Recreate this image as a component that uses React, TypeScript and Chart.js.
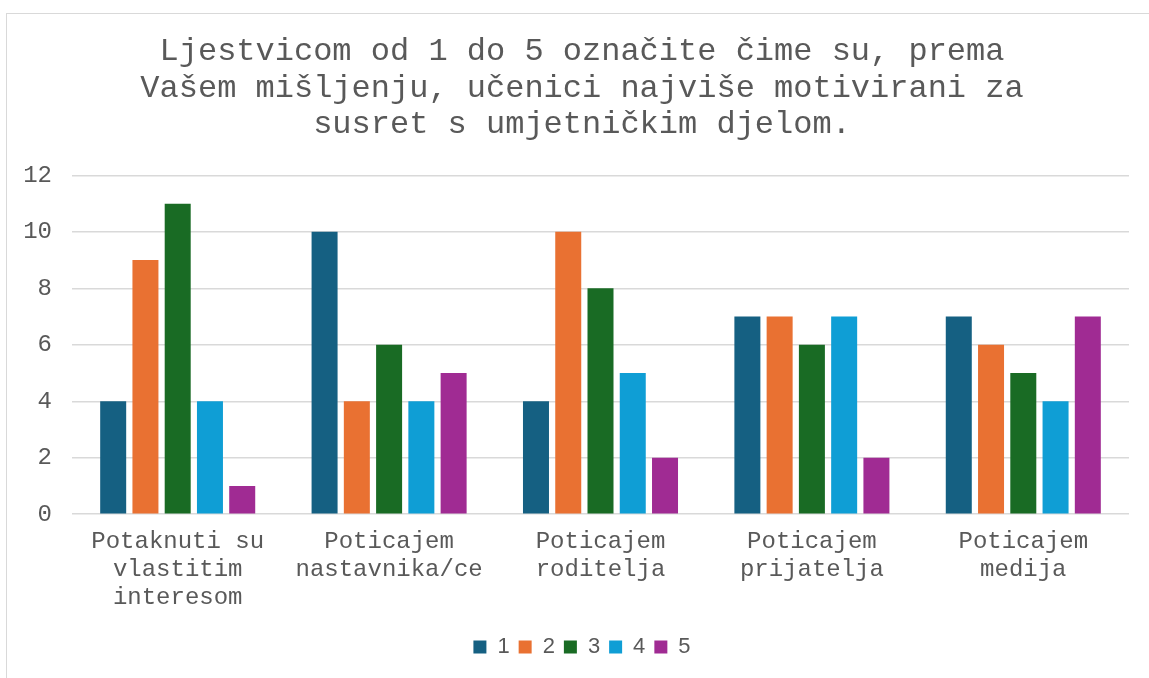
import React, { useEffect, useRef } from "react";
import { Chart, registerables } from "chart.js";

Chart.register(...registerables);

const titleLines = [
  "Ljestvicom od 1 do 5 označite čime su, prema",
  "Vašem mišljenju, učenici najviše motivirani za",
  "susret s umjetničkim djelom.",
];

const categories = [
  ["Potaknuti su", "vlastitim", "interesom"],
  ["Poticajem", "nastavnika/ce"],
  ["Poticajem", "roditelja"],
  ["Poticajem", "prijatelja"],
  ["Poticajem", "medija"],
];

const seriesNames = ["1", "2", "3", "4", "5"];
const series1 = [4, 10, 4, 7, 7];
const series2 = [9, 4, 10, 7, 6];
const series3 = [11, 6, 8, 6, 5];
const series4 = [4, 4, 5, 7, 4];
const series5 = [1, 5, 2, 2, 7];
const seriesColors = ["#156082", "#E97132", "#196B24", "#0F9ED5", "#A02B93"];

const yMin = 0;
const yMax = 12;
const yStep = 2;

const textColor = "#595959";
const mono = "'Liberation Mono', 'DejaVu Sans Mono', monospace";
const sans = "'Liberation Sans', Arial, sans-serif";

export default function App() {
  const canvasRef = useRef<HTMLCanvasElement | null>(null);

  useEffect(() => {
    document.body.style.overflow = "hidden";
    const ctx = canvasRef.current;
    if (!ctx) return;
    const values = [series1, series2, series3, series4, series5];
    const chart = new Chart(ctx, {
      type: "bar",
      data: {
        labels: categories,
        datasets: values.map((v, i) => ({
          label: seriesNames[i],
          data: v,
          backgroundColor: seriesColors[i],
          borderWidth: 0,
          barPercentage: 0.806,
          categoryPercentage: 0.763,
          yAxisID: "y",
        })),
      },
      options: {
        animation: false,
        responsive: true,
        maintainAspectRatio: false,
        layout: { padding: { left: 15, right: 0, top: 0, bottom: 10 } },
        plugins: {
          title: {
            display: true,
            text: titleLines,
            color: textColor,
            font: { family: mono, size: 32, weight: "normal", lineHeight: 1.15 },
            padding: { top: 33, bottom: 32 },
          },
          legend: {
            display: true,
            position: "bottom",
            labels: {
              color: textColor,
              font: { family: sans, size: 22 },
              boxWidth: 13,
              boxHeight: 13,
              padding: 9,
            },
          },
          tooltip: { enabled: false },
        },
        scales: {
          x: {
            grid: { display: false },
            border: { display: false },
            ticks: {
              color: textColor,
              font: { family: mono, size: 24, lineHeight: 1.15 },
              maxRotation: 0,
              minRotation: 0,
              autoSkip: false,
              padding: 6,
            },
            afterFit: (scale: any) => {
              scale.height = 112.8;
            },
          },
          y: {
            min: yMin,
            max: yMax,
            border: { display: false },
            grid: { color: "#d9d9d9", lineWidth: 1.5, drawTicks: false },
            ticks: {
              stepSize: yStep,
              color: textColor,
              font: { family: mono, size: 24 },
              padding: 20,
            },
            afterFit: (scale: any) => {
              scale.width = 57;
            },
          },
          yRight: {
            position: "right",
            min: yMin,
            max: yMax,
            display: true,
            border: { display: false },
            grid: { display: false, drawTicks: false },
            ticks: { display: false },
            afterFit: (scale: any) => {
              scale.width = 20;
            },
          },
        },
      },
    });
    return () => chart.destroy();
  }, []);

  return (
    <div>
      <div
        style={{
          position: "fixed",
          left: 0,
          top: 0,
          width: 1149,
          height: 678,
          background: "#ffffff",
        }}
      >
        <canvas ref={canvasRef} />
      </div>
      <div
        style={{
          position: "fixed",
          left: 6,
          top: 13,
          width: 1170,
          height: 700,
          border: "1px solid #d9d9d9",
          pointerEvents: "none",
        }}
      />
    </div>
  );
}
